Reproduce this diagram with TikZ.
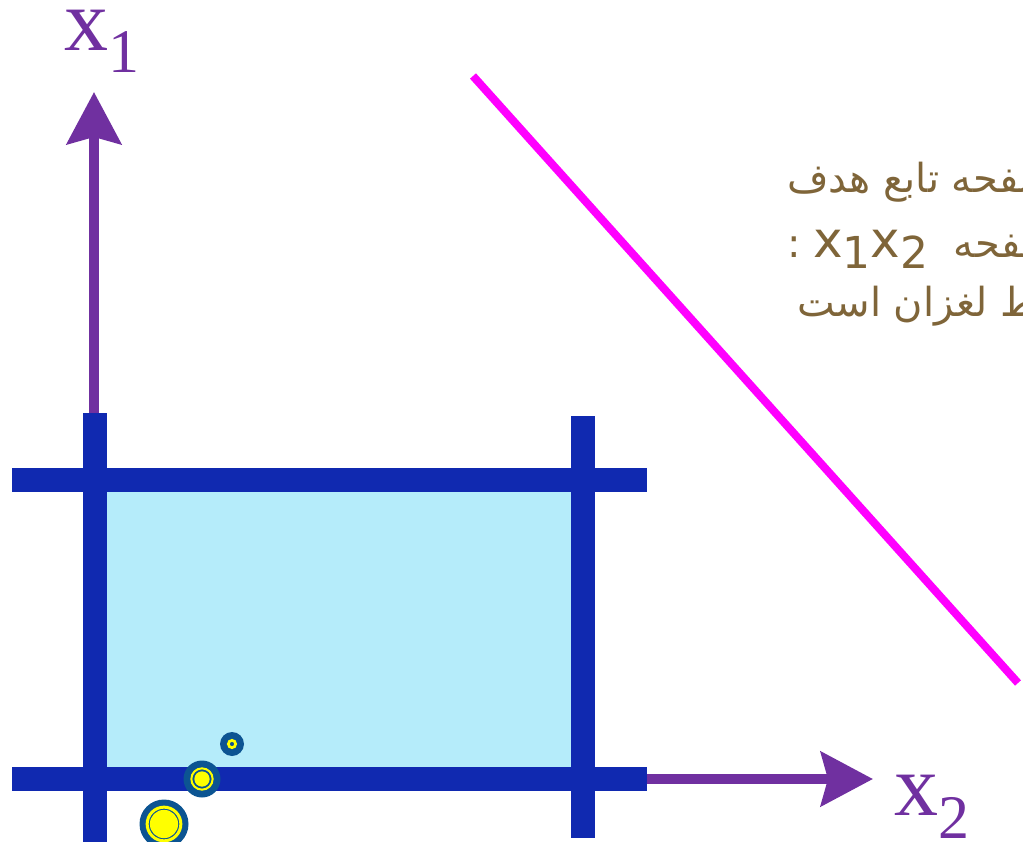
\documentclass[tikz,border=0pt]{standalone}
\usepackage{fontspec}
\usepackage{xcolor}
\usepackage{tikz}
\usetikzlibrary{arrows.meta}
\newfontfamily\axisfont{Liberation Serif}
\newfontfamily\persianfont[Script=Arabic]{DejaVu Sans}
\TeXXeTstate=1
\definecolor{AxisPurple}{HTML}{7030A0}
\definecolor{BoundBlue}{HTML}{1029B0}
\definecolor{FeasLight}{HTML}{B5ECFA}
\definecolor{ObjMagenta}{HTML}{FF00FF}
\definecolor{DotBlue}{HTML}{0C5492}
\definecolor{DotYellow}{HTML}{FFFF00}
\definecolor{NoteBrown}{HTML}{7F6539}

\begin{document}
\begin{tikzpicture}[
    x=1pt, y=-1pt,
    axis/.style={
        -{Stealth[length=52pt,width=54pt,inset=7pt]},
        line width=10pt,
        color=AxisPurple
    },
    bound/.style={
        line width=24pt,
        color=BoundBlue
    },
    objline/.style={
        line width=8pt,
        color=ObjMagenta
    },
    axislabel/.style={
        inner sep=0pt,
        anchor=base west,
        text=AxisPurple,
        font=\axisfont\fontsize{88}{88}\selectfont
    },
    note/.style={
        inner sep=0pt,
        anchor=base west,
        text=NoteBrown,
        font=\persianfont\fontsize{40}{40}\selectfont
    },
    vertexdot/.style={circle, fill=DotBlue, inner sep=0pt},
    vertexring/.style={circle, draw=DotYellow, inner sep=0pt},
    vertexcore/.style={circle, fill=DotYellow, inner sep=0pt}
]
\useasboundingbox (0,0) rectangle (1023,842);
\clip (0,0) rectangle (1023,842);

% feasible region
\fill[FeasLight] (94,480) rectangle (583,779);

% axes
\coordinate (origin) at (94,779);
\coordinate (x1tip) at (94,92);
\coordinate (x2tip) at (873,779);
\draw[axis] (origin) -- (x1tip);
\draw[axis] (origin) -- (x2tip);

\node[axislabel] (x1lab) at (64,51) {x\raisebox{-22pt}{\fontsize{62}{62}\selectfont 1}};
\node[axislabel] (x2lab) at (894,815) {x\raisebox{-23pt}{\fontsize{62}{62}\selectfont 2}};

% constraints
\coordinate (topw) at (12,480);
\coordinate (tope) at (647,480);
\coordinate (botw) at (12,779);
\coordinate (bote) at (647,779);
\coordinate (lefts) at (94.5,413);
\coordinate (lefte) at (94.5,850);
\coordinate (rights) at (583,416);
\coordinate (righte) at (583,838);
\draw[bound] (topw) -- (tope);
\draw[bound] (botw) -- (bote);
\draw[bound] (lefts) -- (lefte);
\draw[bound] (rights) -- (righte);

% objective function
\coordinate (objs) at (473,76);
\coordinate (obje) at (1018,683);
\draw[objline] (objs) -- (obje);

% points
\node[vertexdot, minimum size=24pt] (pa) at (232,744) {};
\node[vertexring, minimum size=7.3pt, line width=2.7pt] at (pa) {};

\node[vertexdot, minimum size=37pt] (pb) at (202,779) {};
\node[vertexring, minimum size=21.3pt, line width=2pt] at (pb) {};
\node[vertexcore, minimum size=15.3pt] at (pb) {};

\node[vertexdot, minimum size=49pt] (pc) at (164,824) {};
\node[vertexring, minimum size=33.7pt, line width=3pt] at (pc) {};
\node[vertexcore, minimum size=28.3pt] at (pc) {};

% note
\node[note] (noteA) at (787,193) {\beginR صفحه تابع هدف\endR};
\node[note] (noteB) at (787,258) {\beginR صفحه\ \ \beginL{\fontsize{50}{50}\selectfont x}\raisebox{-11pt}{\fontsize{44}{44}\selectfont 1}{\fontsize{50}{50}\selectfont x}\raisebox{-11pt}{\fontsize{44}{44}\selectfont 2}\endL{} :\endR};
\node[note] (noteC) at (797,317) {\beginR فقط لغزان است\endR};

\end{tikzpicture}
\end{document}
